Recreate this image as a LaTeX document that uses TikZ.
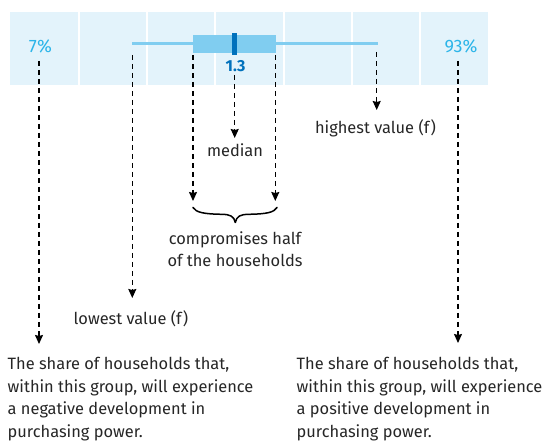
\documentclass[tikz,border=0pt]{standalone}
\usepackage{fontspec}
\setmainfont{Fira Sans}
\usetikzlibrary{arrows.meta}
\definecolor{band}{HTML}{E3F3FB}
\definecolor{boxblue}{HTML}{80CDF0}
\definecolor{medblue}{HTML}{0071BC}
\definecolor{pctblue}{HTML}{2CB5E9}
\tikzset{
  txt/.style={inner sep=0pt, text=black!85, font=\fontsize{16.4}{22.5}\selectfont},
  pct/.style={inner sep=0pt, text=pctblue, font=\fontsize{18}{20}\selectfont},
  pointer/.style={dash pattern=on 5pt off 4pt, line width=1.3pt, black,
    -{Stealth[length=9pt,width=8pt,inset=1pt]}},
  cellsep/.style={white, line width=2pt},
  bracestroke/.style={line width=1.5pt, line cap=round, line join=round}
}
\begin{document}
\begin{tikzpicture}[x=1pt,y=-1pt]
\useasboundingbox (0,0) rectangle (550,444);
% background band split into seven cells
\fill[band] (10,12) rectangle (488,85);
\foreach \sx in {78.7,147,215,283.5,351.7,419.5}
  \draw[cellsep] (\sx,12) -- (\sx,85);
% whisker, box and median
\draw[boxblue, line width=2.8pt] (132.3,43.3) -- (377.7,43.3);
\fill[boxblue] (193,34.7) rectangle (276,52.7);
\fill[medblue] (232.3,33) rectangle (237.2,54.7);
% value labels
\node[pct] (p7) at (40.5,46) {7\%};
\node[pct] (p93) at (461,46) {93\%};
\node[inner sep=0pt, text=medblue, font=\fontsize{16}{18}\selectfont\bfseries] (v13) at (235.5,66) {1.3};
% explanatory labels
\node[txt] (median) at (235,150) {median};
\node[txt] (highest) at (375.5,128) {highest value (f)};
\node[txt, align=center] (half) at (235,249) {compromises half\\of the households};
\node[txt] (lowest) at (131,319) {lowest value (f)};
\node[txt, align=left, anchor=north west] (negpara) at (7.5,357)
  {The share of households that,\\within this group, will experience\\a negative development in\\purchasing power.};
\node[txt, align=left, anchor=north west] (pospara) at (296.5,357)
  {The share of households that,\\within this group, will experience\\a positive development in\\purchasing power.};
% start points of the pointers
\coordinate (s7) at (39,61);
\coordinate (s93) at (458,61);
\coordinate (wlo) at (132.3,55);
\coordinate (whi) at (376.7,52);
\coordinate (blo) at (193,55);
\coordinate (bhi) at (275.3,55);
\coordinate (smed) at (234.7,75);
% end points of the pointers
\coordinate (e7) at (39,344);
\coordinate (e93) at (458,343);
\coordinate (elo) at (132.3,298);
\coordinate (ehi) at (376.7,110);
\coordinate (emed) at (234.7,138);
\coordinate (eblo) at (193,201);
\coordinate (ebhi) at (275.3,201);
% brace around the middle half
\coordinate (brl) at (193,207.5);
\coordinate (brr) at (277,207.5);
\coordinate (brtip) at (235.3,222.5);
\draw[bracestroke] (brl)
  .. controls (196,212.5) and (204,214) .. (222,214.3)
  .. controls (230,214.5) and (234,216) .. (brtip)
  .. controls (236.6,216) and (240.6,214.5) .. (248.6,214.3)
  .. controls (266.6,214) and (274,212.5) .. (brr);
% pointers
\draw[pointer] (s7) -- (e7);
\draw[pointer] (s93) -- (e93);
\draw[pointer] (wlo) -- (elo);
\draw[pointer] (whi) -- (ehi);
\draw[pointer] (smed) -- (emed);
\draw[pointer] (blo) -- (eblo);
\draw[pointer] (bhi) -- (ebhi);
\end{tikzpicture}
\end{document}
